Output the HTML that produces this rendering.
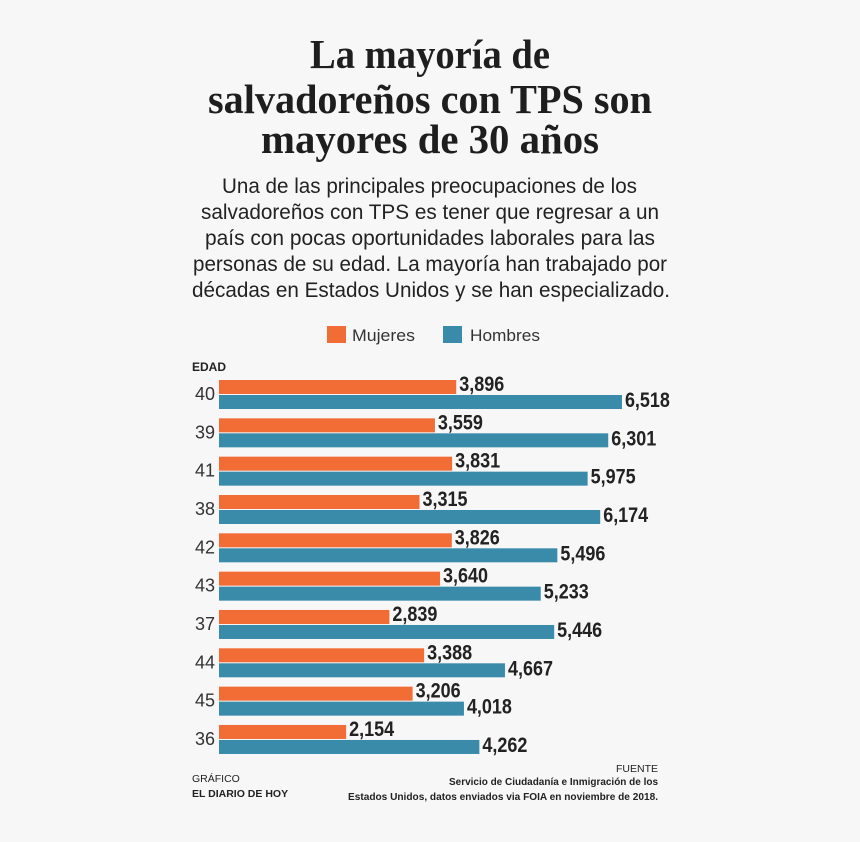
<!DOCTYPE html>
<html><head><meta charset="utf-8"><style>
html,body{margin:0;padding:0;background:#f7f7f7}
svg{display:block}
</style></head><body>
<svg width="860" height="842" viewBox="0 0 860 842" xmlns="http://www.w3.org/2000/svg">
<rect width="860" height="842" fill="#f7f7f7"/>
<g font-family="Liberation Serif, serif" font-weight="bold" font-size="41" fill="#1e1e1e" text-anchor="middle">
<text x="430" y="68" textLength="240" lengthAdjust="spacingAndGlyphs">La mayoría de</text>
<text x="430" y="113" textLength="444" lengthAdjust="spacingAndGlyphs">salvadoreños con TPS son</text>
<text x="430" y="153" textLength="338" lengthAdjust="spacingAndGlyphs">mayores de 30 años</text>
</g>
<g font-family="Liberation Sans, sans-serif" font-size="21" fill="#222">
<text x="222" y="193" textLength="415" lengthAdjust="spacingAndGlyphs">Una de las principales preocupaciones de los</text>
<text x="201" y="219" textLength="458" lengthAdjust="spacingAndGlyphs">salvadoreños con TPS es tener que regresar a un</text>
<text x="205" y="245" textLength="450" lengthAdjust="spacingAndGlyphs">país con pocas oportunidades laborales para las</text>
<text x="193" y="271" textLength="474" lengthAdjust="spacingAndGlyphs">personas de su edad. La mayoría han trabajado por</text>
<text x="192" y="297" textLength="478" lengthAdjust="spacingAndGlyphs">décadas en Estados Unidos y se han especializado.</text>
</g>
<rect x="327" y="326" width="19" height="17" fill="#f26c35"/>
<rect x="443" y="326" width="19" height="17" fill="#3a8aaa"/>
<g font-family="Liberation Sans, sans-serif" font-size="17" fill="#333">
<text x="352" y="341" textLength="63" lengthAdjust="spacingAndGlyphs">Mujeres</text>
<text x="470" y="341" textLength="70" lengthAdjust="spacingAndGlyphs">Hombres</text>
</g>
<text x="192" y="371" font-family="Liberation Sans, sans-serif" font-weight="bold" font-size="12" fill="#222">EDAD</text>
<g id="bars" font-family="Liberation Sans Narrow, Liberation Sans, sans-serif" font-weight="bold" font-size="21" fill="#222"></g>
<g font-family="Liberation Sans, sans-serif" font-size="10.5" fill="#222">
<text x="192" y="782">GRÁFICO</text>
<text x="192" y="797" font-weight="bold">EL DIARIO DE HOY</text>
<text x="658" y="772" text-anchor="end">FUENTE</text>
<text x="449" y="785" font-weight="bold" textLength="209" lengthAdjust="spacingAndGlyphs">Servicio de Ciudadanía e Inmigración de los</text>
<text x="348" y="800" font-weight="bold" textLength="310" lengthAdjust="spacingAndGlyphs">Estados Unidos, datos enviados via FOIA  en noviembre de 2018.</text>
</g>
</svg>
<script>
var d=[[40,3896,6518],[39,3559,6301],[41,3831,5975],[38,3315,6174],[42,3826,5496],[43,3640,5233],[37,2839,5446],[44,3388,4667],[45,3206,4018],[36,2154,4262]];
var g=document.getElementById('bars'),s='';
function f(v){return (v/1000|0)+','+String(v%1000).padStart(3,'0');}
d.forEach(function(r,i){
var y=380+i*38.33;var e1=210+0.0632*r[1],e2=210+0.0632*r[2];
s+='<rect x="219" y="'+y+'" width="'+(e1-219)+'" height="14" fill="#f26c35"/>';
s+='<rect x="219" y="'+(y+15)+'" width="'+(e2-219)+'" height="14" fill="#3a8aaa"/>';
s+='<text x="'+(e1+3)+'" y="'+(y+11)+'" textLength="45" lengthAdjust="spacingAndGlyphs">'+f(r[1])+'</text>';
s+='<text x="'+(e2+3)+'" y="'+(y+27)+'" textLength="45" lengthAdjust="spacingAndGlyphs">'+f(r[2])+'</text>';
s+='<text x="215" y="'+(y+20)+'" text-anchor="end" font-family="Liberation Sans, sans-serif" font-weight="normal" font-size="18" fill="#333">'+r[0]+'</text>';
});
g.innerHTML=s;
</script>
</body></html>
